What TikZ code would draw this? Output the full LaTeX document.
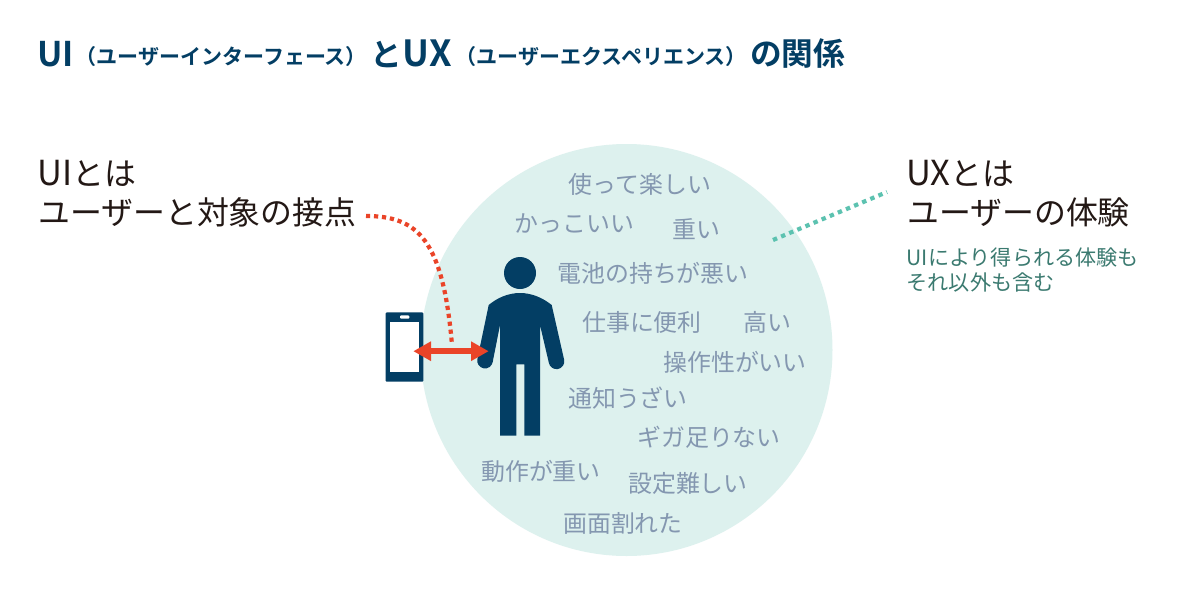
\documentclass[tikz,border=0pt]{standalone}
\usepackage{fontspec}
\setmainfont{Noto Sans CJK JP}
\newfontfamily\jpb{Noto Sans CJK JP Bold}
\usetikzlibrary{arrows.meta}
\definecolor{navy}{HTML}{033E64}
\definecolor{mint}{HTML}{DDF1EE}
\definecolor{teal}{HTML}{5CC2B0}
\definecolor{redc}{HTML}{EA4428}
\definecolor{ink}{HTML}{231815}
\definecolor{word}{HTML}{8497B0}
\definecolor{sub}{HTML}{3B7A70}
\newcommand{\latinbig}[1]{{\fontsize{34.5}{34.5}\selectfont #1}}
\tikzset{
 word/.style={anchor=center,inner sep=0,text=word,font=\fontsize{23.9}{23.9}\selectfont},
 lab/.style={anchor=west,inner sep=0,text=ink,font=\fontsize{31.9}{31.9}\selectfont},
 small/.style={anchor=west,inner sep=0,text=sub,font=\fontsize{21.1}{21.1}\selectfont},
 ttl/.style={anchor=west,inner sep=0,text=navy,font=\jpb\fontsize{31.7}{31.7}\selectfont},
 tts/.style={anchor=west,inner sep=0,text=navy,font=\jpb\fontsize{21}{21}\selectfont},
 reddots/.style={draw=redc,line width=4.2pt,dash pattern=on 4.2pt off 3.8pt},
 tealdots/.style={draw=teal,line width=4.2pt,dash pattern=on 4.4pt off 4.4pt}
}
\begin{document}
\begin{tikzpicture}[x=1pt,y=-1pt]
\useasboundingbox (0,0) rectangle (1200,600);
\fill[white] (0,0) rectangle (1200,600);
\node[circle,fill=mint,minimum size=412pt,inner sep=0] (exp) at (626.5,350) {};
% title
\node[ttl] (t1) at (37,54) {\fontsize{34}{34}\selectfont UI};
\node[tts] (t2) at (75.5,57) {（ユーザーインターフェース）};
\node[ttl] (t3) at (370,54) {と\hspace{1pt}\fontsize{36}{36}\selectfont UX};
\node[tts] (t4) at (455.5,57) {（ユーザーエクスペリエンス）};
\node[ttl] (t5) at (750,54) {の関係};
% labels
\node[lab] (l1) at (37,173) {\latinbig{UI}とは};
\node[lab] (l2) at (38,212) {ユーザーと対象の接点};
\node[lab] (r1) at (906,173) {\latinbig{UX}とは};
\node[lab] (r2) at (907,212) {ユーザーの体験};
\node[small] (s1) at (906.5,257) {UIにより得られる体験も};
\node[small] (s2) at (906.5,282) {それ以外も含む};
% words
\node[word] (w1) at (640,184) {使って楽しい};
\node[word] (w2) at (574.5,223) {かっこいい};
\node[word] (w3) at (696,229) {重い};
\node[word] (w4) at (653,273) {電池の持ちが悪い};
\node[word] (w5) at (642,322) {仕事に便利};
\node[word] (w6) at (767,322) {高い};
\node[word] (w7) at (735,362) {操作性がいい};
\node[word] (w8) at (628,398) {通知うざい};
\node[word] (w9) at (709,437) {ギガ足りない};
\node[word] (w10) at (541,471) {動作が重い};
\node[word] (w11) at (688,483) {設定難しい};
\node[word] (w12) at (623,523) {画面割れた};
% phone
\fill[navy,rounded corners=1pt] (385.7,312.3) rectangle (423.3,381.7);
\fill[white] (390.3,321.7) rectangle (418.7,372.3);
\fill[white,rounded corners=1pt] (400,315.3) rectangle (409.3,318.7);
% person
\fill[navy] (520,273) circle (16);
\fill[navy] (500,435.7) -- (500,325) -- (492.7,362)
  arc[start angle=10,end angle=190,radius=7.8]
  -- (488.7,305) .. controls (497,298) and (508,293) .. (520,293)
  .. controls (532,293) and (543,298) .. (551.7,305)
  -- (564.2,360) arc[start angle=-10,end angle=170,radius=7.8]
  -- (540,325) -- (540,435.7) -- (524.3,435.7) -- (524.3,364.3) -- (516.3,364.3) -- (516.3,435.7) -- cycle;
% connectors
\coordinate (pa) at (413.3,351.2);
\coordinate (pb) at (488.7,351.2);
\coordinate (ra) at (366,216);
\coordinate (rb) at (452,345);
\coordinate (ga) at (773,240);
\coordinate (gb) at (887,192);
\draw[reddots] (ra) .. controls (418,216) and (443,240) .. (rb);
\draw[tealdots] (ga) -- (gb);
\draw[redc,line width=6.5pt,{Triangle[length=17.7pt,width=18.5pt]}-{Triangle[length=17.7pt,width=18.5pt]}] (pa) -- (pb);
\end{tikzpicture}
\end{document}
